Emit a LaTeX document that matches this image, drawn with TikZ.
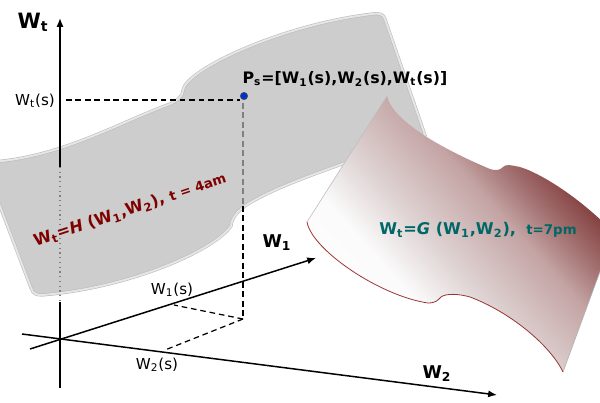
\documentclass[tikz,border=0pt]{standalone}
\usepackage{fontspec}
\setmainfont{DejaVu Sans}
\usetikzlibrary{arrows.meta}

\definecolor{surfgray}{HTML}{CDCDCD}
\definecolor{surfrim}{HTML}{E6E6E6}
\definecolor{surfdark}{HTML}{7C3434}
\definecolor{labelred}{HTML}{800000}
\definecolor{labelteal}{HTML}{006666}
\definecolor{ballblue}{HTML}{0033CC}

% Shading of the front surface
\pgfdeclareverticalshading{surfgrad}{100bp}{color(0bp)=(white); color(37bp)=(white!97!gray); color(46bp)=(white!82!surfdark!92!gray); color(58bp)=(white!55!surfdark); color(64bp)=(white!30!surfdark); color(71bp)=(white!4!surfdark); color(100bp)=(surfdark)}

% Edges of the two surfaces
\newcommand{\graytop}{(-10,162) .. controls (60,158) and (120,122) .. (170,104) .. controls (178,100) and (183,96) .. (183,90) .. controls (186,70) and (280,25) .. (372,14) .. controls (380,13) and (383,14) .. (385,19)}
\newcommand{\graybottom}{(425,135) -- (345,163) .. controls (320,172) and (280,186) .. (255,200) .. controls (240,208) and (232,216) .. (231,226) .. controls (215,250) and (130,288) .. (42,295) .. controls (36,295) and (33,294) .. (31,288) -- (-10,180)}
\newcommand{\gtop}{(387,96) .. controls (392,120) and (440,148) .. (490,169) .. controls (497,171) and (500,170) .. (503,167) .. controls (506,164) and (510,165) .. (520,167) .. controls (540,173) and (575,195) .. (605,224)}
\newcommand{\gbottom}{(307,222) .. controls (312,250) and (380,296) .. (428,303) .. controls (436,303) and (438,300) .. (441,297) .. controls (446,293) and (460,294) .. (470,297) .. controls (510,312) and (550,345) .. (563,372)}

\begin{document}
\begin{tikzpicture}[
  x=0.02cm, y=-0.02cm,
  axis/.style={-{Latex[length=5pt,width=4pt]}, line width=0.85pt},
  axisline/.style={line width=0.85pt},
  hidden/.style={gray, line width=0.7pt, dotted},
  guide/.style={line width=0.7pt, dash pattern=on 3.2pt off 2.2pt},
  guidehidden/.style={guide, gray},
  coord/.style={font=\fontsize{8.6}{10}\selectfont, inner sep=0pt},
  axislabel/.style={font=\fontsize{10}{12}\bfseries\selectfont, inner sep=0pt}]

\useasboundingbox (0,0) rectangle (600,403);

% Surface behind
\begin{scope}
  \clip (0,0) rectangle (600,403);
  \filldraw[fill=surfgray, draw=surfgray!92!black, double=surfrim, double distance=1.1pt, line width=0.35pt]
    \graytop -- \graybottom -- cycle;
\end{scope}

% Positions of the axes
\coordinate (origin) at (60,340);
\coordinate (wtTop) at (60,18);
\coordinate (wtBottom) at (60,388);
\coordinate (wtHiddenTop) at (60,167);
\coordinate (wtHiddenBottom) at (60,302);
\coordinate (w1Start) at (30,349);
\coordinate (w1End) at (316,258);
\coordinate (w2Start) at (22,334);
\coordinate (w2End) at (497,395);
\coordinate (wtMark) at (66,100);
\coordinate (psLevel) at (240,100);
\coordinate (psBelow) at (243,103);
\coordinate (foot) at (243,319);
\coordinate (w1Mark) at (174,305);
\coordinate (w2Mark) at (165,350);
\coordinate (edgeCross) at (243,206);

% Draw the axes
\draw[axis] (wtHiddenTop) -- (wtTop);
\draw[hidden] (wtHiddenTop) -- (wtHiddenBottom);
\draw[axisline] (wtHiddenBottom) -- (wtBottom);
\draw[axis] (w1Start) -- (w1End);
\draw[axis] (w2Start) -- (w2End);

% Draw the projections
\draw[guide] (wtMark) -- (psLevel);
\draw[guidehidden] (psBelow) -- (edgeCross);
\draw[guide] (edgeCross) -- (foot);
\draw[guide] (foot) -- (w1Mark);
\draw[guide] (foot) -- (w2Mark);

% Point on the surface
\node[circle, fill=ballblue, draw=black!70, line width=0.3pt, inner sep=0pt, minimum size=4.2pt] (ps) at (244,96) {};

% Surface in front
\begin{scope}
  \clip (0,0) rectangle (600,403);
  \shade[shading=surfgrad, shading angle=-48]
    \gtop -- (605,258) -- (563,372) .. controls (550,345) and (510,312) .. (470,297) .. controls (460,294) and (446,293) .. (441,297) .. controls (438,300) and (436,303) .. (428,303) .. controls (380,296) and (312,250) .. (307,222) -- cycle;
  \draw[gray!50, line width=0.35pt] (307,222) -- (387,96);
  \draw[gray!60, line width=0.35pt] (563,372) -- (605,258);
  \draw[labelred!80!white, line width=0.45pt] \gbottom;
\end{scope}

% Labels
\node[font=\fontsize{12}{14}\bfseries\selectfont, inner sep=0pt] (wtLabel) at (33,22) {W\textsubscript{t}};
\node[coord] (wtsLabel) at (35,101) {W\textsubscript{t}(s)};
\node[coord] (w1sLabel) at (172,290) {W\textsubscript{1}(s)};
\node[coord] (w2sLabel) at (157,365) {W\textsubscript{2}(s)};
\node[axislabel] (w1Label) at (277,243) {W\textsubscript{1}};
\node[axislabel] (w2Label) at (437,374) {W\textsubscript{2}};
\node[font=\fontsize{9}{11}\bfseries\selectfont, inner sep=0pt] (psLabel) at (345,79) {P\textsubscript{s}=[W\textsubscript{1}(s),W\textsubscript{2}(s),W\textsubscript{t}(s)]};
\node[font=\fontsize{9.2}{11}\bfseries\selectfont, text=labelred, rotate=18.5, inner sep=0pt] (hLabel) at (130,210) {W\textsubscript{t}=\textit{H} (W\textsubscript{1},W\textsubscript{2}), {\fontsize{7.6}{10}\selectfont t = 4am}};
\node[font=\fontsize{9.2}{11}\bfseries\selectfont, text=labelteal, inner sep=0pt] (gLabel) at (478,230) {W\textsubscript{t}=\textit{G} (W\textsubscript{1},W\textsubscript{2}), {\fontsize{7.6}{10}\selectfont\ t=7pm}};

\end{tikzpicture}
\end{document}
